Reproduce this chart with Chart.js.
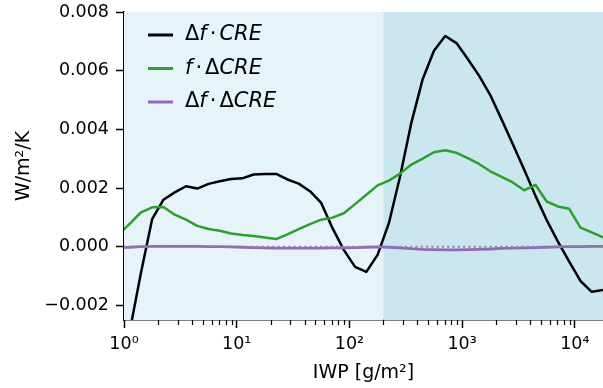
<!DOCTYPE html>
<html>
<head>
<meta charset="utf-8">
<script src="https://cdn.jsdelivr.net/npm/chart.js@4.4.1/dist/chart.umd.min.js"></script>
<style>
  html, body { margin: 0; padding: 0; background: #fff; }
</style>
</head>
<body>
<canvas id="iwpChart" width="603" height="388"></canvas>
<script>
// IWP bin centres [g/m2] (log10 spacing of 0.1, first one sits just left of the axis)
const iwp = [0.8913, 1.122, 1.413, 1.778, 2.239, 2.818, 3.548, 4.467, 5.623, 7.079, 8.913,
  11.22, 14.13, 17.78, 22.39, 28.18, 35.48, 44.67, 56.23, 70.79, 89.13,
  112.2, 141.3, 177.8, 223.9, 281.8, 354.8, 446.7, 562.3, 707.9, 891.3,
  1122, 1413, 1778, 2239, 2818, 3548, 4467, 5623, 7079, 8913,
  11220, 14130, 17780];

// Δf · CRE
const dfCre = [-0.0049, -0.0029, -0.0009, 0.00094, 0.0016, 0.00185, 0.00206, 0.00198, 0.00214, 0.00223, 0.00231,
  0.00233, 0.00246, 0.00248, 0.00248, 0.00229, 0.00215, 0.00189, 0.00149, 0.00063, -0.00011,
  -0.00069, -0.00086, -0.00028, 0.0008, 0.0024, 0.00423, 0.00571, 0.00668, 0.00718, 0.00694,
  0.0064, 0.00583, 0.00517, 0.00434, 0.00349, 0.00263, 0.00174, 0.00091, 0.00017, -0.00051,
  -0.00117, -0.00154, -0.00148];

// f · ΔCRE
const fDcre = [0.0004, 0.00078, 0.00117, 0.00134, 0.00135, 0.00109, 0.00092, 0.00071, 0.0006, 0.00054, 0.00045,
  0.0004, 0.00036, 0.00031, 0.00026, 0.00042, 0.0006, 0.00077, 0.00092, 0.00099, 0.00114,
  0.00145, 0.00177, 0.00209, 0.00225, 0.00249, 0.0028, 0.003, 0.00322, 0.00329, 0.0032,
  0.00302, 0.00282, 0.00257, 0.00238, 0.00219, 0.00192, 0.00211, 0.00154, 0.00137, 0.00129,
  0.00065, 0.00049, 0.00032];

// Δf · ΔCRE
const dfDcre = [-0.00003, -0.00002, 0, 0.00001, 0.00001, 0.00001, 0.00001, 0.00001, 0, 0, -0.00001,
  -0.00002, -0.00003, -0.00004, -0.00005, -0.00005, -0.00005, -0.00005, -0.00005, -0.00004, -0.00004,
  -0.00003, -0.00002, -0.00001, -0.00002, -0.00004, -0.00007, -0.00009, -0.0001, -0.00011, -0.00011,
  -0.0001, -0.00009, -0.00008, -0.00006, -0.00005, -0.00004, -0.00003, -0.00002, -0.00001, 0,
  0, 0.00001, 0.00001];

const seriesLabels = ['Δf·CRE', 'f·ΔCRE', 'Δf·ΔCRE'];

const xMin = 1;
const xMax = 17780;
const yMin = -0.0025;
const yMax = 0.008;
const xTickValues = [1, 10, 100, 1000, 10000];
const xTickLabels = ['10⁰', '10¹', '10²', '10³', '10⁴'];
const yTickValues = [-0.002, 0, 0.002, 0.004, 0.006, 0.008];
const regionEdges = [1, 200, 17780];

const FONT = "'DejaVu Sans', sans-serif";

const toPoints = (ys) => ys.map((y, i) => ({ x: iwp[i], y: y }));

// shaded IWP regions behind the lines
const regionBands = {
  id: 'regionBands',
  beforeDatasetsDraw(chart) {
    const { ctx, chartArea, scales: { x } } = chart;
    const colors = ['#e6f3f8', '#cae6ef'];
    ctx.save();
    for (let i = 0; i < regionEdges.length - 1; i++) {
      const x0 = x.getPixelForValue(regionEdges[i]);
      const x1 = x.getPixelForValue(regionEdges[i + 1]);
      ctx.fillStyle = colors[i];
      ctx.fillRect(x0, chartArea.top, x1 - x0, chartArea.bottom - chartArea.top);
    }
    ctx.restore();
  }
};

// minor ticks for the log axis
const minorTicks = {
  id: 'minorTicks',
  afterDraw(chart) {
    const { ctx, chartArea, scales: { x } } = chart;
    ctx.save();
    ctx.strokeStyle = '#000';
    ctx.lineWidth = 1.2;
    for (let d = 1; d <= 10000; d *= 10) {
      for (let m = 2; m <= 9; m++) {
        const v = m * d;
        if (v < xMin || v > xMax) continue;
        const px = Math.round(x.getPixelForValue(v)) + 0.5;
        ctx.beginPath();
        ctx.moveTo(px, chartArea.bottom);
        ctx.lineTo(px, chartArea.bottom + 5);
        ctx.stroke();
      }
    }
    ctx.restore();
  }
};

// legend in the upper left corner, greek letters and dot upright, the rest italic
const innerLegend = {
  id: 'innerLegend',
  afterDraw(chart) {
    const { ctx, chartArea } = chart;
    const size = 21;
    ctx.save();
    ctx.textBaseline = 'middle';
    for (let i = 0; i < 3; i++) {
      const ds = chart.data.datasets[i];
      const y = chartArea.top + 23 + i * 33.5;
      const lx = chartArea.left + 24;
      ctx.strokeStyle = ds.borderColor;
      ctx.lineWidth = 3;
      ctx.beginPath();
      ctx.moveTo(lx, y);
      ctx.lineTo(lx + 25, y);
      ctx.stroke();
      let tx = lx + 37;
      ctx.fillStyle = '#000';
      for (const ch of ds.label) {
        const upright = ch === 'Δ' || ch === '·';
        ctx.font = (upright ? '' : 'italic ') + size + 'px ' + FONT;
        if (ch === '·') tx += 3;
        ctx.fillText(ch, tx, y);
        tx += ctx.measureText(ch).width;
        if (ch === '·') tx += 3;
      }
    }
    ctx.restore();
  }
};

const ctx = document.getElementById('iwpChart').getContext('2d');
const chart = new Chart(ctx, {
  type: 'line',
  data: {
    datasets: [
      { label: seriesLabels[0], data: toPoints(dfCre), borderColor: '#000000', borderWidth: 2.5, order: 3 },
      { label: seriesLabels[1], data: toPoints(fDcre), borderColor: '#2ca02c', borderWidth: 2.5, order: 2 },
      { label: seriesLabels[2], data: toPoints(dfDcre), borderColor: '#9467bd', borderWidth: 2.8, order: 1 },
      {
        label: 'zero', data: [{ x: xMin, y: 0 }, { x: xMax, y: 0 }],
        borderColor: '#8a8a8a', borderWidth: 2, borderDash: [2, 3.3], order: 0
      }
    ]
  },
  options: {
    responsive: false,
    animation: false,
    devicePixelRatio: 1,
    elements: {
      point: { radius: 0 },
      line: { tension: 0, borderJoinStyle: 'round', fill: false }
    },
    layout: { padding: { left: 0, right: 0, top: 12, bottom: 0 } },
    plugins: {
      legend: { display: false },
      tooltip: { enabled: false }
    },
    scales: {
      x: {
        type: 'logarithmic',
        min: xMin,
        max: xMax,
        afterBuildTicks: (s) => { s.ticks = xTickValues.map(v => ({ value: v })); },
        afterFit: (s) => { s.height = 68; s.paddingLeft = 0; s.paddingRight = 0; },
        ticks: {
          color: '#000',
          font: { family: FONT, size: 17.5 },
          padding: 6,
          maxRotation: 0,
          autoSkip: false,
          callback: (v) => xTickLabels[xTickValues.indexOf(v)]
        },
        grid: { drawOnChartArea: false, tickLength: 8, tickColor: '#000', tickWidth: 1.5 },
        border: { color: '#000', width: 1.5 },
        title: {
          display: true, text: 'IWP [g/m²]', color: '#000',
          font: { family: FONT, size: 19 }, padding: { top: 0, bottom: 4 }
        }
      },
      y: {
        type: 'linear',
        min: yMin,
        max: yMax,
        afterBuildTicks: (s) => { s.ticks = yTickValues.map(v => ({ value: v })); },
        afterFit: (s) => { s.width = 124; s.paddingTop = 0; s.paddingBottom = 0; },
        ticks: {
          color: '#000',
          font: { family: FONT, size: 17.5 },
          padding: 7,
          callback: (v) => (v < -1e-9 ? '\u2212' : '') + Math.abs(v).toFixed(3)
        },
        grid: { drawOnChartArea: false, tickLength: 8, tickColor: '#000', tickWidth: 1.5 },
        border: { color: '#000', width: 1.5 },
        title: {
          display: true, text: 'W/m²/K', color: '#000',
          font: { family: FONT, size: 19 }, padding: { top: 13, bottom: 0 }
        }
      }
    }
  },
  plugins: [regionBands, minorTicks, innerLegend]
});
</script>
</body>
</html>
